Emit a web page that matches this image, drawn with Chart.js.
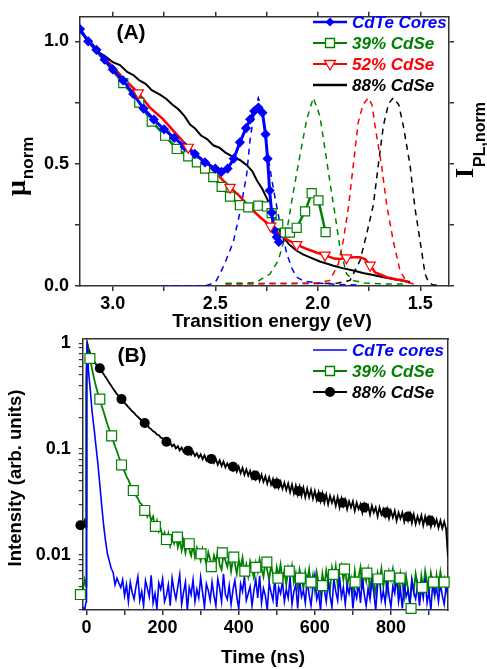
<!DOCTYPE html>
<html>
<head>
<meta charset="utf-8">
<title>CdTe/CdSe absorption, emission and decay</title>
<script src="https://cdn.jsdelivr.net/npm/chart.js@4/dist/chart.umd.min.js"></script>
<style>
  html, body { margin: 0; padding: 0; background: #fff; }
  #wrap { position: relative; width: 487px; height: 669px; overflow: hidden; }
  canvas { position: absolute; left: 0; }
  #absChart { top: 0; }
  #decayChart { top: 320px; }
</style>
</head>
<body>
<div id="wrap">
  <canvas id="absChart" width="487" height="340"></canvas>
  <canvas id="decayChart" width="487" height="349"></canvas>
</div>
<script>
const BLUE = '#0000ff', GREEN = '#008000', RED = '#ff0000', BLACK = '#000000';
const AXIS = '#333333';
const FONT = '"Liberation Sans", Arial, sans-serif';

Chart.defaults.font.family = FONT;
Chart.defaults.color = '#000';

// ---------- (A) absorption + PL, energy in eV ----------
const energyTicks = [1.5, 1.75, 2.0, 2.25, 2.5, 2.75, 3.0];
const energyLabels = [1.5, 2.0, 2.5, 3.0];
const muTicks = [0, 0.25, 0.5, 0.75, 1.0];
const muLabels = [0, 0.5, 1.0];

// absorption
const absEnergyCores = [3.16, 3.12, 3.08, 3.04, 3.0, 2.95, 2.9, 2.85, 2.8, 2.75, 2.7, 2.65, 2.6, 2.55, 2.5, 2.47, 2.44, 2.41, 2.38, 2.35, 2.33, 2.31, 2.29, 2.27, 2.255, 2.245, 2.235, 2.225, 2.215, 2.2, 2.19];
const absCores = [1.05, 1.0, 0.965, 0.925, 0.885, 0.84, 0.785, 0.725, 0.68, 0.64, 0.605, 0.57, 0.54, 0.505, 0.48, 0.466, 0.48, 0.52, 0.587, 0.645, 0.681, 0.715, 0.729, 0.708, 0.62, 0.52, 0.39, 0.3, 0.23, 0.2, 0.18];

const absEnergy39 = [3.16, 3.1, 3.05, 3.0, 2.949, 2.871, 2.81, 2.745, 2.688, 2.632, 2.59, 2.55, 2.51, 2.469, 2.428, 2.38, 2.339, 2.29, 2.249, 2.225, 2.193, 2.16, 2.136, 2.103, 2.062, 2.03, 1.997, 1.962];
const abs39 = [1.044, 0.98, 0.93, 0.88, 0.829, 0.749, 0.672, 0.614, 0.56, 0.53, 0.505, 0.48, 0.445, 0.405, 0.365, 0.33, 0.321, 0.328, 0.325, 0.298, 0.252, 0.218, 0.218, 0.238, 0.305, 0.379, 0.35, 0.22];

const absEnergy52 = [3.16, 3.1, 3.05, 3.0, 2.95, 2.876, 2.82, 2.754, 2.7, 2.632, 2.57, 2.51, 2.46, 2.428, 2.38, 2.33, 2.28, 2.23, 2.168, 2.103, 2.05, 2.0, 1.965, 1.92, 1.892, 1.86, 1.82, 1.794, 1.77, 1.745, 1.721, 1.69, 1.664, 1.62, 1.583, 1.558];
const abs52 = [1.044, 0.985, 0.935, 0.897, 0.85, 0.789, 0.73, 0.681, 0.63, 0.567, 0.52, 0.473, 0.43, 0.403, 0.366, 0.319, 0.28, 0.245, 0.198, 0.169, 0.15, 0.135, 0.126, 0.112, 0.11, 0.115, 0.117, 0.117, 0.11, 0.085, 0.056, 0.045, 0.036, 0.028, 0.023, 0.016];
const triEnergy52 = [2.876, 2.632, 2.428, 2.23, 2.103, 1.965, 1.86, 1.745];
const tri52 = [0.789, 0.567, 0.403, 0.245, 0.169, 0.126, 0.115, 0.085];

const absEnergy88 = [3.16, 3.13, 3.1, 3.07, 3.04, 3.0, 2.965, 2.93, 2.9, 2.87, 2.84, 2.81, 2.77, 2.74, 2.71, 2.68, 2.65, 2.623, 2.6, 2.57, 2.54, 2.51, 2.48, 2.45, 2.412, 2.38, 2.347, 2.32, 2.298, 2.27, 2.249, 2.228, 2.208, 2.19, 2.168, 2.14, 2.103, 2.07, 2.038, 1.99, 1.95, 1.924, 1.88, 1.827, 1.78, 1.73, 1.68, 1.62, 1.58, 1.55];
const abs88 = [1.044, 1.01, 0.99, 0.955, 0.94, 0.915, 0.903, 0.875, 0.862, 0.84, 0.826, 0.8, 0.782, 0.765, 0.742, 0.722, 0.694, 0.66, 0.645, 0.615, 0.6, 0.575, 0.565, 0.545, 0.527, 0.515, 0.494, 0.47, 0.433, 0.395, 0.359, 0.32, 0.278, 0.235, 0.198, 0.17, 0.144, 0.128, 0.117, 0.1, 0.09, 0.083, 0.073, 0.063, 0.053, 0.045, 0.036, 0.026, 0.02, 0.016];

// photoluminescence (dashed)
const plEnergyCores = [2.76, 2.55, 2.5, 2.477, 2.45, 2.412, 2.38, 2.347, 2.33, 2.31, 2.29, 2.275, 2.26, 2.249, 2.217, 2.184, 2.151, 2.125, 2.103, 2.07, 2.0, 1.9, 1.8];
const plCores = [0.0, 0.0, 0.015, 0.05, 0.1, 0.18, 0.3, 0.455, 0.6, 0.71, 0.769, 0.73, 0.65, 0.56, 0.399, 0.252, 0.131, 0.07, 0.036, 0.02, 0.012, 0.006, 0.004];

const plEnergy39 = [2.45, 2.35, 2.298, 2.233, 2.193, 2.151, 2.119, 2.087, 2.054, 2.022, 1.99, 1.965, 1.941, 1.916, 1.892, 1.86, 1.827, 1.77, 1.65, 1.567];
const pl39 = [0.01, 0.012, 0.016, 0.05, 0.104, 0.225, 0.386, 0.534, 0.681, 0.769, 0.695, 0.56, 0.426, 0.292, 0.157, 0.05, 0.023, 0.012, 0.008, 0.008];

const plEnergy52 = [2.45, 2.2, 2.0, 1.941, 1.9, 1.876, 1.851, 1.827, 1.803, 1.78, 1.754, 1.735, 1.721, 1.689, 1.664, 1.632, 1.599, 1.567, 1.52];
const pl52 = [0.008, 0.01, 0.012, 0.023, 0.09, 0.184, 0.319, 0.493, 0.668, 0.74, 0.769, 0.74, 0.655, 0.493, 0.332, 0.184, 0.063, 0.016, 0.005];

const plEnergy88 = [2.45, 2.0, 1.9, 1.843, 1.794, 1.762, 1.729, 1.705, 1.68, 1.655, 1.632, 1.605, 1.583, 1.55, 1.526, 1.501, 1.477, 1.46, 1.44, 1.4];
const pl88 = [0.01, 0.01, 0.012, 0.023, 0.104, 0.211, 0.332, 0.493, 0.655, 0.745, 0.769, 0.74, 0.655, 0.493, 0.319, 0.184, 0.05, 0.016, 0.005, 0.003];

// ---------- (B) PL decay, time in ns ----------
const timeTicks = [0, 100, 200, 300, 400, 500, 600, 700, 800, 900];
const timeLabels = [0, 200, 400, 600, 800];
const intensityTicks = [0.003, 0.004, 0.005, 0.006, 0.007, 0.008, 0.009, 0.01, 0.02, 0.03, 0.04, 0.05, 0.06, 0.07, 0.08, 0.09, 0.1, 0.2, 0.3, 0.4, 0.5, 0.6, 0.7, 0.8, 0.9, 1];
const intensityLabels = { '1': '1', '0.1': '0.1', '0.01': '0.01' };

const decayTime = [-10, -5, -1, 0, 2, 5, 10, 15, 20, 25, 30, 35, 40, 45, 50, 55, 60, 65, 70, 75,
  80, 85, 90, 95, 100, 105, 110, 115, 120, 125,
  130, 135, 140, 145, 150, 155, 160, 165, 170, 175,
  180, 185, 190, 195, 200, 205, 210, 215, 220, 225,
  230, 235, 240, 245, 250, 255, 260, 265, 270, 275,
  280, 285, 290, 295, 300, 305, 310, 315, 320, 325,
  330, 335, 340, 345, 350, 355, 360, 365, 370, 375,
  380, 385, 390, 395, 400, 405, 410, 415, 420, 425,
  430, 435, 440, 445, 450, 455, 460, 465, 470, 475,
  480, 485, 490, 495, 500, 505, 510, 515, 520, 525,
  530, 535, 540, 545, 550, 555, 560, 565, 570, 575,
  580, 585, 590, 595, 600, 605, 610, 615, 620, 625,
  630, 635, 640, 645, 650, 655, 660, 665, 670, 675,
  680, 685, 690, 695, 700, 705, 710, 715, 720, 725,
  730, 735, 740, 745, 750, 755, 760, 765, 770, 775,
  780, 785, 790, 795, 800, 805, 810, 815, 820, 825,
  830, 835, 840, 845, 850, 855, 860, 865, 870, 875,
  880, 885, 890, 895, 900, 905, 910, 915, 920, 925,
  930, 935, 940, 945, 950];

const decayCores = [0.0032, 0.0030, 0.0036, 0.40, 1.0, 0.56, 0.36, 0.22, 0.155, 0.105, 0.072, 0.046, 0.029, 0.019, 0.0135, 0.0102, 0.0087, 0.0074, 0.0068, 0.0052,
  0.0060, 0.0054, 0.0049, 0.0058, 0.0041, 0.0052, 0.0036, 0.0055, 0.0044, 0.0038,
  0.0050, 0.0062, 0.0037, 0.0045, 0.0033, 0.0057, 0.0048, 0.0040, 0.0064, 0.0035,
  0.0043, 0.0031, 0.0054, 0.0047, 0.0059, 0.0036, 0.0041, 0.0052, 0.0033, 0.0060,
  0.0046, 0.0038, 0.0050, 0.0065, 0.0034, 0.0044, 0.0055, 0.0030, 0.0049, 0.0042,
  0.0058, 0.0036, 0.0047, 0.0039, 0.0061, 0.0044, 0.0032, 0.0053, 0.0046, 0.0037,
  0.0055, 0.0041, 0.0033, 0.0059, 0.0048, 0.0036, 0.0066, 0.0042, 0.0038, 0.0051,
  0.0034, 0.0047, 0.0057, 0.0040, 0.0031, 0.0053, 0.0045, 0.0062, 0.0037, 0.0043,
  0.0050, 0.0033, 0.0046, 0.0058, 0.0039, 0.0063, 0.0035, 0.0048, 0.0041, 0.0030,
  0.0054, 0.0044, 0.0037, 0.0060, 0.0032, 0.0049, 0.0043, 0.0056, 0.0036, 0.0047,
  0.0039, 0.0061, 0.0034, 0.0045, 0.0052, 0.0031, 0.0058, 0.0040, 0.0046, 0.0035,
  0.0057, 0.0042, 0.0033, 0.0050, 0.0064, 0.0038, 0.0044, 0.0030, 0.0053, 0.0047,
  0.0036, 0.0055, 0.0041, 0.0032, 0.0059, 0.0045, 0.0037, 0.0062, 0.0040, 0.0049,
  0.0034, 0.0051, 0.0043, 0.0057, 0.0031, 0.0046, 0.0039, 0.0054, 0.0035, 0.0060,
  0.0042, 0.0033, 0.0048, 0.0038, 0.0056, 0.0044, 0.0030, 0.0052, 0.0061, 0.0037,
  0.0045, 0.0035, 0.0058, 0.0041, 0.0032, 0.0050, 0.0043, 0.0063, 0.0036, 0.0047,
  0.0031, 0.0054, 0.0040, 0.0046, 0.0034, 0.0057, 0.0044, 0.0038, 0.0052, 0.0033,
  0.0049, 0.0039, 0.0060, 0.0035, 0.0045, 0.0030, 0.0055, 0.0042, 0.0048, 0.0036,
  0.0053, 0.0041, 0.0034, 0.0050, 0.0044];

const decay39 = [0.0045, 0.0058, 0.0050, 0.30, 0.97, 0.84, 0.70, 0.56, 0.46, 0.39, 0.335, 0.295, 0.255, 0.225, 0.195, 0.17, 0.152, 0.135, 0.12, 0.106,
  0.095, 0.084, 0.075, 0.067, 0.061, 0.055, 0.051, 0.046, 0.043, 0.040,
  0.036, 0.034, 0.031, 0.030, 0.026, 0.028, 0.023, 0.025, 0.021, 0.023,
  0.0185, 0.021, 0.0165, 0.0175, 0.0148, 0.0162, 0.0135, 0.0158, 0.0122, 0.0145,
  0.0128, 0.0152, 0.0118, 0.0140, 0.0110, 0.0135, 0.0104, 0.0128, 0.0112, 0.0098,
  0.0124, 0.0095, 0.0116, 0.0102, 0.0088, 0.0113, 0.0094, 0.0082, 0.0105, 0.0090,
  0.0076, 0.0098, 0.0085, 0.0109, 0.0080, 0.0072, 0.0101, 0.0088, 0.0077, 0.0096,
  0.0070, 0.0092, 0.0083, 0.0066, 0.0089, 0.0075, 0.0094, 0.0068, 0.0081, 0.0063,
  0.0086, 0.0072, 0.0060, 0.0083, 0.0069, 0.0090, 0.0074, 0.0062, 0.0085, 0.0071,
  0.0058, 0.0079, 0.0066, 0.0054, 0.0076, 0.0063, 0.0081, 0.0057, 0.0070, 0.0052,
  0.0074, 0.0061, 0.0078, 0.0055, 0.0067, 0.0050, 0.0072, 0.0059, 0.0048, 0.0069,
  0.0056, 0.0073, 0.0051, 0.0064, 0.0046, 0.0068, 0.0054, 0.0043, 0.0066, 0.0050,
  0.0071, 0.0057, 0.0047, 0.0075, 0.0060, 0.0078, 0.0052, 0.0069, 0.0079, 0.0058,
  0.0074, 0.0049, 0.0065, 0.0055, 0.0044, 0.0070, 0.0051, 0.0062, 0.0076, 0.0047,
  0.0068, 0.0056, 0.0072, 0.0046, 0.0063, 0.0053, 0.0043, 0.0067, 0.0057, 0.0074,
  0.0050, 0.0064, 0.0045, 0.0069, 0.0058, 0.0073, 0.0048, 0.0061, 0.0042, 0.0066,
  0.0053, 0.0040, 0.0062, 0.0047, 0.0034, 0.0058, 0.0045, 0.0066, 0.0051, 0.0039,
  0.0063, 0.0048, 0.0070, 0.0055, 0.0044, 0.0067, 0.0052, 0.0041, 0.0064, 0.0049,
  0.0069, 0.0053, 0.0060, 0.0045, 0.0058];

const decay88 = [0.019, 0.021, 0.018, 0.55, 1.0, 0.9, 0.8, 0.72, 0.67, 0.63, 0.60, 0.575, 0.54, 0.51, 0.48, 0.45, 0.42, 0.395, 0.37, 0.35,
  0.330, 0.316, 0.301, 0.288, 0.272, 0.261, 0.249, 0.238, 0.227, 0.219,
  0.209, 0.201, 0.193, 0.185, 0.179, 0.171, 0.166, 0.158, 0.154, 0.147,
  0.144, 0.137, 0.135, 0.128, 0.126, 0.120, 0.119, 0.113, 0.114, 0.106,
  0.110, 0.101, 0.106, 0.097, 0.103, 0.094, 0.099, 0.091, 0.097, 0.088,
  0.094, 0.086, 0.091, 0.083, 0.089, 0.080, 0.087, 0.078, 0.084, 0.076,
  0.082, 0.074, 0.080, 0.071, 0.078, 0.069, 0.076, 0.067, 0.073, 0.066,
  0.071, 0.063, 0.069, 0.061, 0.068, 0.059, 0.066, 0.057, 0.064, 0.056,
  0.062, 0.053, 0.060, 0.052, 0.059, 0.050, 0.057, 0.049, 0.055, 0.047,
  0.054, 0.046, 0.052, 0.044, 0.051, 0.043, 0.049, 0.042, 0.048, 0.041,
  0.047, 0.039, 0.046, 0.038, 0.045, 0.037, 0.044, 0.036, 0.043, 0.035,
  0.042, 0.035, 0.041, 0.034, 0.040, 0.033, 0.039, 0.032, 0.038, 0.031,
  0.037, 0.030, 0.036, 0.031, 0.035, 0.029, 0.035, 0.028, 0.034, 0.029,
  0.033, 0.027, 0.032, 0.028, 0.032, 0.026, 0.031, 0.027, 0.030, 0.025,
  0.030, 0.026, 0.029, 0.024, 0.029, 0.025, 0.028, 0.023, 0.028, 0.024,
  0.027, 0.023, 0.027, 0.022, 0.026, 0.0225, 0.026, 0.021, 0.025, 0.022,
  0.025, 0.0205, 0.024, 0.021, 0.0245, 0.020, 0.024, 0.0195, 0.023, 0.020,
  0.0235, 0.019, 0.023, 0.0195, 0.0225, 0.0185, 0.022, 0.019, 0.0215, 0.018,
  0.021, 0.0178, 0.0205, 0.0175, 0.0095];

// symbols sitting on the decay traces
const squareTime39 = [-16, 9, 35, 66, 92, 123, 153, 181, 210, 239, 270, 301, 328, 357, 387, 416, 445, 474, 503, 533, 562, 590, 620, 649, 678, 706, 737, 766, 796, 824, 853, 882, 912, 940];
const square39 = [0.0042, 0.716, 0.296, 0.133, 0.0706, 0.0404, 0.0262, 0.0185, 0.0139, 0.0147, 0.0127, 0.0102, 0.0077, 0.0104, 0.0095, 0.0070, 0.0076, 0.0085, 0.0060, 0.0070, 0.0060, 0.0055, 0.0051, 0.0065, 0.0073, 0.0055, 0.0067, 0.0059, 0.0063, 0.0060, 0.0031, 0.0049, 0.0055, 0.0055];
const circleTime88 = [-16, 35, 92, 153, 210, 267, 328, 385, 443, 500, 558, 615, 673, 730, 788, 845, 903];
const circle88 = [0.019, 0.58, 0.296, 0.176, 0.117, 0.096, 0.0805, 0.068, 0.056, 0.047, 0.040, 0.035, 0.031, 0.028, 0.025, 0.023, 0.021];

// ---------- helpers ----------
const pts = (xs, ys) => xs.map((x, i) => ({ x: x, y: ys[i] }));
const fixedTicks = values => scale => { scale.ticks = values.map(v => ({ value: v })); };
const fixW = w => scale => { scale.width = w; };
const fixH = h => scale => { scale.height = h; };
const near = (a, b) => Math.abs(a - b) < 1e-9;
const tickFont = { size: 18, weight: 'bold' };
const grid = { drawOnChartArea: false, tickLength: 5, color: AXIS, lineWidth: 1.5 };
const border = { color: AXIS, width: 1.5 };
const blank = () => '';

function drawMarker(ctx, kind, x, y, color) {
  ctx.save();
  ctx.setLineDash([]);
  ctx.lineWidth = 1.3;
  ctx.strokeStyle = color;
  ctx.fillStyle = color;
  ctx.beginPath();
  if (kind === 'diamond') {
    ctx.moveTo(x, y - 4.5); ctx.lineTo(x + 4.5, y); ctx.lineTo(x, y + 4.5); ctx.lineTo(x - 4.5, y);
    ctx.closePath(); ctx.fill();
  } else if (kind === 'square') {
    ctx.rect(x - 4.5, y - 4.5, 9, 9);
    ctx.fillStyle = '#fff'; ctx.fill(); ctx.stroke();
  } else if (kind === 'triangle') {
    ctx.moveTo(x - 5.5, y - 3.5); ctx.lineTo(x + 5.5, y - 3.5); ctx.lineTo(x, y + 6);
    ctx.closePath(); ctx.fillStyle = '#fff'; ctx.fill(); ctx.stroke();
  } else if (kind === 'circle') {
    ctx.arc(x, y, 5, 0, Math.PI * 2); ctx.fill();
  }
  ctx.restore();
}

function drawLegend(ctx, rows) {
  ctx.save();
  ctx.font = 'italic bold 17px ' + FONT;
  ctx.textBaseline = 'middle';
  ctx.textAlign = 'left';
  rows.forEach(r => {
    ctx.strokeStyle = r.color;
    ctx.lineWidth = r.width;
    ctx.beginPath(); ctx.moveTo(313, r.y); ctx.lineTo(347, r.y); ctx.stroke();
    if (r.marker) drawMarker(ctx, r.marker, 330, r.y, r.color);
    ctx.fillStyle = r.color;
    ctx.fillText(r.label, 352, r.y + 1);
  });
  ctx.restore();
}

function text(ctx, str, x, y, font, angle) {
  ctx.save();
  ctx.translate(x, y);
  if (angle) ctx.rotate(angle);
  ctx.font = font;
  ctx.fillStyle = '#000';
  ctx.textAlign = 'center';
  ctx.textBaseline = 'middle';
  ctx.fillText(str, 0, 0);
  ctx.restore();
}

const lineDs = (label, data, color, width, extra) => Object.assign({
  label: label, data: data, borderColor: color, backgroundColor: color,
  borderWidth: width, pointRadius: 0, pointHoverRadius: 0, tension: 0
}, extra || {});

// ---------- chart (A) ----------
new Chart(document.getElementById('absChart'), {
  type: 'line',
  data: {
    datasets: [
      lineDs('52% CdSe markers', pts(triEnergy52, tri52), RED, 0, {
        showLine: false, pointStyle: 'triangle', pointRotation: 180, pointRadius: 6,
        pointBackgroundColor: '#fff', pointBorderColor: RED, pointBorderWidth: 1.2
      }),
      lineDs('CdTe Cores', pts(absEnergyCores, absCores), BLUE, 3, {
        pointStyle: 'rectRot', pointRadius: 3, pointBackgroundColor: BLUE, pointBorderColor: BLUE
      }),
      lineDs('39% CdSe', pts(absEnergy39, abs39), GREEN, 2.5, {
        pointStyle: 'rect', pointRadius: c => c.dataIndex < 4 ? 0 : 6.4,
        pointBackgroundColor: '#fff', pointBorderColor: GREEN, pointBorderWidth: 1.2
      }),
      lineDs('52% CdSe', pts(absEnergy52, abs52), RED, 2.5),
      lineDs('88% CdSe', pts(absEnergy88, abs88), BLACK, 2),
      lineDs('PL cores', pts(plEnergyCores, plCores), BLUE, 1.5, { borderDash: [6, 5] }),
      lineDs('PL 39%', pts(plEnergy39, pl39), GREEN, 1.5, { borderDash: [6, 5] }),
      lineDs('PL 52%', pts(plEnergy52, pl52), RED, 1.5, { borderDash: [6, 5] }),
      lineDs('PL 88%', pts(plEnergy88, pl88), BLACK, 1.5, { borderDash: [6, 5] })
    ]
  },
  options: {
    responsive: false,
    animation: false,
    layout: { padding: 0 },
    plugins: { legend: { display: false }, tooltip: { enabled: false } },
    scales: {
      x: {
        type: 'linear', position: 'bottom', reverse: true, min: 1.36, max: 3.16,
        afterBuildTicks: fixedTicks(energyTicks), afterFit: fixH(54),
        ticks: { autoSkip: false, maxRotation: 0, padding: 2, font: tickFont, color: '#000',
          callback: v => energyLabels.some(l => near(l, v)) ? v.toFixed(1) : '' },
        grid: grid, border: border
      },
      xTop: {
        type: 'linear', position: 'top', reverse: true, min: 1.36, max: 3.16,
        afterBuildTicks: fixedTicks(energyTicks), afterFit: fixH(13),
        ticks: { autoSkip: false, maxRotation: 0, callback: blank },
        grid: grid, border: border
      },
      y: {
        type: 'linear', position: 'left', min: 0, max: 1.1,
        afterBuildTicks: fixedTicks(muTicks), afterFit: fixW(80),
        ticks: { autoSkip: false, padding: 6, font: tickFont, color: '#000',
          callback: v => muLabels.some(l => near(l, v)) ? v.toFixed(1) : '' },
        grid: grid, border: border
      },
      yRight: {
        type: 'linear', position: 'right', min: 0, max: 1.1,
        afterBuildTicks: fixedTicks(muTicks), afterFit: fixW(38),
        ticks: { autoSkip: false, callback: blank },
        grid: grid, border: border
      }
    }
  },
  plugins: [{
    id: 'panelA',
    afterDraw(chart) {
      const ctx = chart.ctx;
      text(ctx, '(A)', 131, 33, 'bold 21px ' + FONT);
      text(ctx, 'Transition energy (eV)', 272, 322, 'bold 19px ' + FONT);

      // μ_norm on the left
      ctx.save();
      ctx.translate(25, 196);
      ctx.rotate(-Math.PI / 2);
      ctx.fillStyle = '#000';
      ctx.font = 'bold 28px "Liberation Serif", serif';
      ctx.fillText('μ', 0, 0);
      const wm = ctx.measureText('μ').width;
      ctx.font = 'bold 17px ' + FONT;
      ctx.fillText('norm', wm + 1, 8);
      ctx.restore();

      // I_PL,norm on the right
      ctx.save();
      ctx.translate(473, 178);
      ctx.rotate(-Math.PI / 2);
      ctx.fillStyle = '#000';
      ctx.font = 'bold 26px "Liberation Serif", serif';
      ctx.fillText('I', 0, 0);
      const wi = ctx.measureText('I').width;
      ctx.font = 'bold 16px ' + FONT;
      ctx.fillText('PL,norm', wi + 1, 12);
      ctx.restore();

      drawLegend(ctx, [
        { label: 'CdTe Cores', color: BLUE, width: 2.5, marker: 'diamond', y: 22 },
        { label: '39% CdSe', color: GREEN, width: 2, marker: 'square', y: 43 },
        { label: '52% CdSe', color: RED, width: 2, marker: 'triangle', y: 64 },
        { label: '88% CdSe', color: BLACK, width: 2.5, marker: null, y: 85 }
      ]);
    }
  }]
});

// ---------- chart (B) ----------
new Chart(document.getElementById('decayChart'), {
  type: 'line',
  data: {
    datasets: [
      lineDs('39% CdSe markers', pts(squareTime39, square39), GREEN, 0, {
        showLine: false, pointStyle: 'rect', pointRadius: 7, clip: false,
        pointBackgroundColor: '#fff', pointBorderColor: GREEN, pointBorderWidth: 1.2
      }),
      lineDs('88% CdSe markers', pts(circleTime88, circle88), BLACK, 0, {
        showLine: false, pointStyle: 'circle', pointRadius: 5, clip: false,
        pointBackgroundColor: BLACK, pointBorderColor: BLACK
      }),
      lineDs('CdTe cores', pts(decayTime, decayCores), BLUE, 1.6),
      lineDs('39% CdSe', pts(decayTime, decay39), GREEN, 1.8),
      lineDs('88% CdSe', pts(decayTime, decay88), BLACK, 1.8)
    ]
  },
  options: {
    responsive: false,
    animation: false,
    layout: { padding: 0 },
    plugins: { legend: { display: false }, tooltip: { enabled: false } },
    scales: {
      x: {
        type: 'linear', position: 'bottom', min: -10, max: 950,
        afterBuildTicks: fixedTicks(timeTicks), afterFit: fixH(59),
        ticks: { autoSkip: false, maxRotation: 0, padding: 2, font: tickFont, color: '#000',
          callback: v => timeLabels.includes(v) ? String(v) : '' },
        grid: grid, border: border
      },
      xTop: {
        type: 'linear', position: 'top', min: -10, max: 950,
        afterFit: fixH(18),
        ticks: { display: false },
        grid: { display: false }, border: border
      },
      y: {
        type: 'logarithmic', position: 'left', min: 0.003, max: 1.1,
        afterBuildTicks: fixedTicks(intensityTicks), afterFit: fixW(82.7),
        ticks: { autoSkip: false, padding: 8, font: tickFont, color: '#000',
          callback: v => intensityLabels[String(v)] || '' },
        grid: { drawOnChartArea: false, tickLength: 4, color: AXIS, lineWidth: 1.2 }, border: border
      },
      yRight: {
        type: 'logarithmic', position: 'right', min: 0.003, max: 1.1,
        afterFit: fixW(39),
        ticks: { display: false },
        grid: { display: false }, border: border
      }
    }
  },
  plugins: [{
    id: 'panelB',
    afterDraw(chart) {
      const ctx = chart.ctx;
      text(ctx, '(B)', 132, 36, 'bold 21px ' + FONT);
      text(ctx, 'Time (ns)', 263, 338, 'bold 19px ' + FONT);
      text(ctx, 'Intensity (arb. units)', 16, 158, 'bold 18.5px ' + FONT, -Math.PI / 2);
      drawLegend(ctx, [
        { label: 'CdTe cores', color: BLUE, width: 1.5, marker: null, y: 30 },
        { label: '39% CdSe', color: GREEN, width: 2, marker: 'square', y: 51 },
        { label: '88% CdSe', color: BLACK, width: 2, marker: 'circle', y: 72 }
      ]);
    }
  }]
});
</script>
</body>
</html>
